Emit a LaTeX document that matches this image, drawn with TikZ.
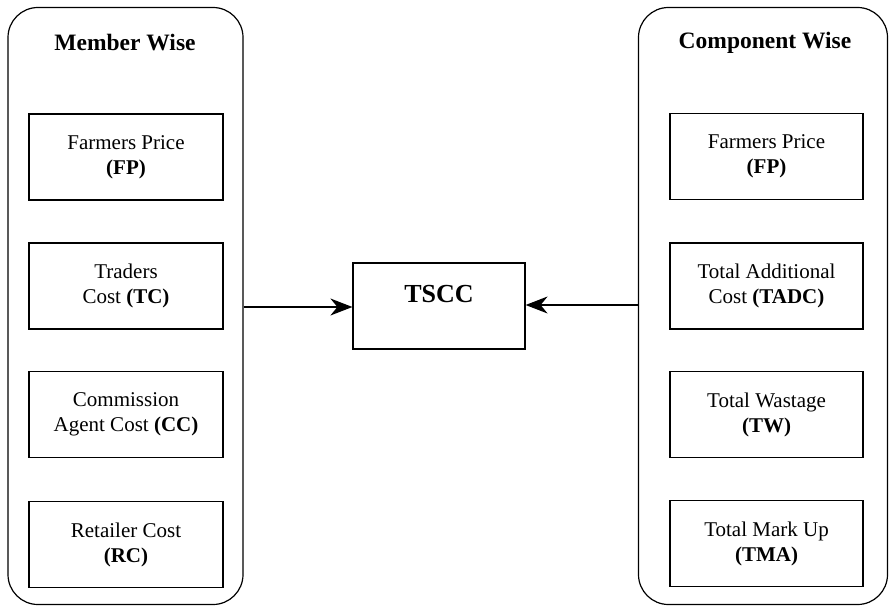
\documentclass[tikz,border=0pt]{standalone}
\usepackage{fontspec}
\setmainfont{Liberation Serif}
\usetikzlibrary{arrows.meta}

\tikzset{
  panel/.style={draw, line width=1.2pt, rounded corners=30pt, inner sep=0pt},
  itembox/.style={draw, line width=1.2pt, inner sep=0pt, align=center,
    font=\fontsize{21}{25}\selectfont},
  paneltitle/.style={font=\fontsize{23.5}{28}\selectfont\bfseries, inner sep=0pt},
  link/.style={line width=1.2pt, -{Stealth[length=22pt, width=17pt, inset=7pt]}}
}

\begin{document}
\begin{tikzpicture}[x=1pt, y=-1pt]
  \useasboundingbox (0,0) rectangle (889,607);

  % two side panels
  \node[panel, minimum width=235pt, minimum height=597pt] (mw) at (125.5,306) {};
  \node[panel, minimum width=249pt, minimum height=597pt] (cw) at (763,306) {};

  \node[paneltitle] (mwtitle) at (125,43) {Member Wise};
  \node[paneltitle] (cwtitle) at (765,43) {Component Wise};

  % member-wise cost items
  \node[itembox, minimum width=194pt, minimum height=86pt] (fp1) at (126,157)
    {Farmers Price\\\textbf{(FP)}};
  \node[itembox, minimum width=194pt, minimum height=86pt] (tc) at (126,286)
    {Traders\\Cost \textbf{(TC)}};
  \node[itembox, minimum width=194pt, minimum height=86pt] (cc) at (126,414.5)
    {Commission\\Agent Cost \textbf{(CC)}};
  \node[itembox, minimum width=194pt, minimum height=86pt] (rc) at (126,544.5)
    {Retailer Cost\\\textbf{(RC)}};

  % component-wise cost items
  \node[itembox, minimum width=193pt, minimum height=86pt] (fp2) at (766.5,156.5)
    {Farmers Price\\\textbf{(FP)}};
  \node[itembox, minimum width=193pt, minimum height=86pt] (tadc) at (766.5,286)
    {Total Additional\\Cost \textbf{(TADC)}};
  \node[itembox, minimum width=193pt, minimum height=86pt] (tw) at (766.5,414.5)
    {Total Wastage\\\textbf{(TW)}};
  \node[itembox, minimum width=193pt, minimum height=86pt] (tma) at (766.5,543.5)
    {Total Mark Up\\\textbf{(TMA)}};

  % central total
  \node[draw, line width=1.2pt, minimum width=172pt, minimum height=86pt] (tscc) at (439,306) {};
  \node[font=\fontsize{26}{30}\selectfont\bfseries, inner sep=0pt] (tscclabel) at (439,294) {TSCC};

  % connectors
  \draw[link] (mw.east |- 0,307) -- (tscc.west |- 0,307);
  \draw[link] (cw.west |- 0,305) -- (tscc.east |- 0,305);
\end{tikzpicture}
\end{document}
